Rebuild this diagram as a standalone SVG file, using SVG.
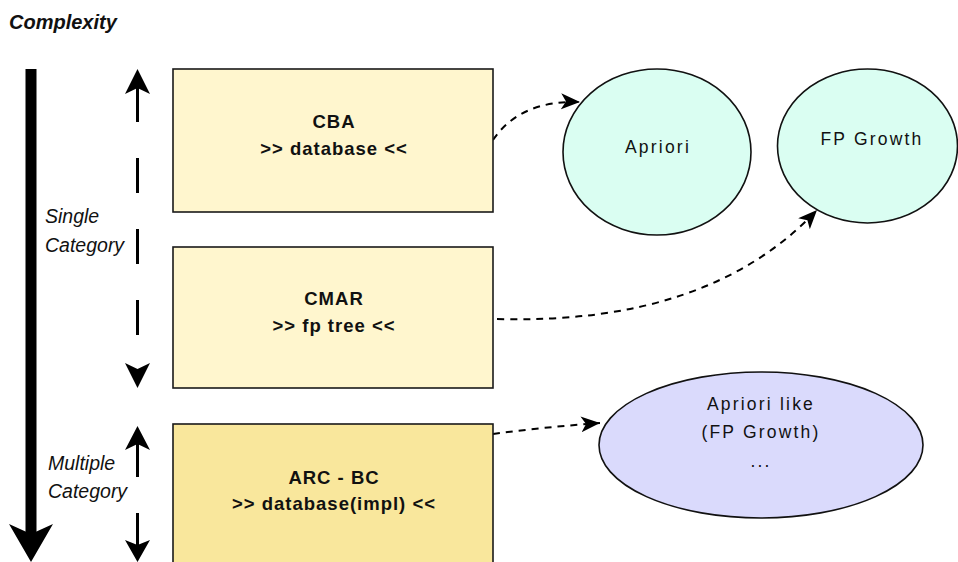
<svg xmlns="http://www.w3.org/2000/svg" width="958" height="562" viewBox="0 0 958 562">
<style>
.box{stroke:#1a1a1a;stroke-width:1.6}
.ell{stroke:#111;stroke-width:1.6}
.bt{font-family:"Liberation Sans",Arial,sans-serif;font-weight:bold;font-size:18.5px;letter-spacing:1px;text-anchor:middle;fill:#111}
.et{font-family:"Liberation Sans",Arial,sans-serif;font-size:17.5px;letter-spacing:2.2px;text-anchor:middle;fill:#111}
.lt{font-family:"Liberation Sans",Arial,sans-serif;font-style:italic;font-size:19.5px;fill:#111}
.conn{fill:none;stroke:#000;stroke-width:2;stroke-dasharray:7 6}
</style>
<defs>
<marker id="ah" markerUnits="userSpaceOnUse" markerWidth="22" markerHeight="18" refX="19" refY="8" orient="auto">
<path d="M0,0 L19,8 L0,16 L5,8 Z" fill="#000"/>
</marker>
</defs>
<rect width="958" height="562" fill="#fff"/>
<text x="9" y="29" style="font-family:'Liberation Sans',Arial,sans-serif;font-weight:bold;font-style:italic;font-size:20px;fill:#111">Complexity</text>
<g id="complexity-axis">
<rect x="25.5" y="69" width="11" height="467" fill="#000"/>
<path d="M9,524 L31,562 L53,524 L31,534 Z" fill="#000"/>
</g>
<g id="single-range">
<line x1="137.5" y1="87" x2="137.5" y2="370" stroke="#000" stroke-width="3" stroke-dasharray="35 36"/>
<path d="M137.5,69 L150,94 L137.5,88 L125,94 Z" fill="#000"/>
<path d="M137.5,388 L150,363 L137.5,369 L125,363 Z" fill="#000"/>
<text class="lt" x="45" y="223">Single</text>
<text class="lt" x="45" y="252">Category</text>
</g>
<g id="multiple-range">
<line x1="137.5" y1="444" x2="137.5" y2="477" stroke="#000" stroke-width="3"/>
<path d="M137.5,426 L150,450 L137.5,444 L125,450 Z" fill="#000"/>
<line x1="137.5" y1="513" x2="137.5" y2="545" stroke="#000" stroke-width="3"/>
<path d="M137.5,562 L150,540 L137.5,545 L125,540 Z" fill="#000"/>
<text class="lt" x="48" y="470">Multiple</text>
<text class="lt" x="48" y="498">Category</text>
</g>
<g id="connectors">
<path class="conn" d="M493,140 Q520,100 580,102" marker-end="url(#ah)"/>
<path class="conn" d="M497,319 Q709,325 817,210" marker-end="url(#ah)"/>
<path class="conn" d="M493,434 Q545,427 600,423" marker-end="url(#ah)"/>
</g>
<g id="cba">
<rect class="box" x="173" y="69" width="320" height="143" fill="#FFF6CE"/>
<text class="bt" x="334" y="128">CBA</text>
<text class="bt" x="334" y="155">&gt;&gt; database &lt;&lt;</text>
</g>
<g id="cmar">
<rect class="box" x="173" y="247" width="320" height="141" fill="#FFF6CE"/>
<text class="bt" x="334" y="305">CMAR</text>
<text class="bt" x="334" y="332">&gt;&gt; fp tree &lt;&lt;</text>
</g>
<g id="arc-bc">
<rect class="box" x="173" y="424" width="320" height="143" fill="#F9E79C"/>
<text class="bt" x="334" y="484">ARC - BC</text>
<text class="bt" x="334" y="510">&gt;&gt; database(impl) &lt;&lt;</text>
</g>
<g id="apriori">
<ellipse class="ell" cx="657" cy="152" rx="94" ry="83" fill="#DAFEF2"/>
<text class="et" x="658" y="153">Apriori</text>
</g>
<g id="fp-growth">
<ellipse class="ell" cx="867.5" cy="146" rx="90" ry="77" fill="#DAFEF2"/>
<text class="et" x="872" y="145">FP Growth</text>
</g>
<g id="apriori-like">
<ellipse class="ell" cx="761" cy="445" rx="162" ry="73" fill="#DADAFC"/>
<text class="et" x="761" y="410">Apriori like</text>
<text class="et" x="761" y="438">(FP Growth)</text>
<text class="et" x="761" y="467">...</text>
</g>
</svg>
